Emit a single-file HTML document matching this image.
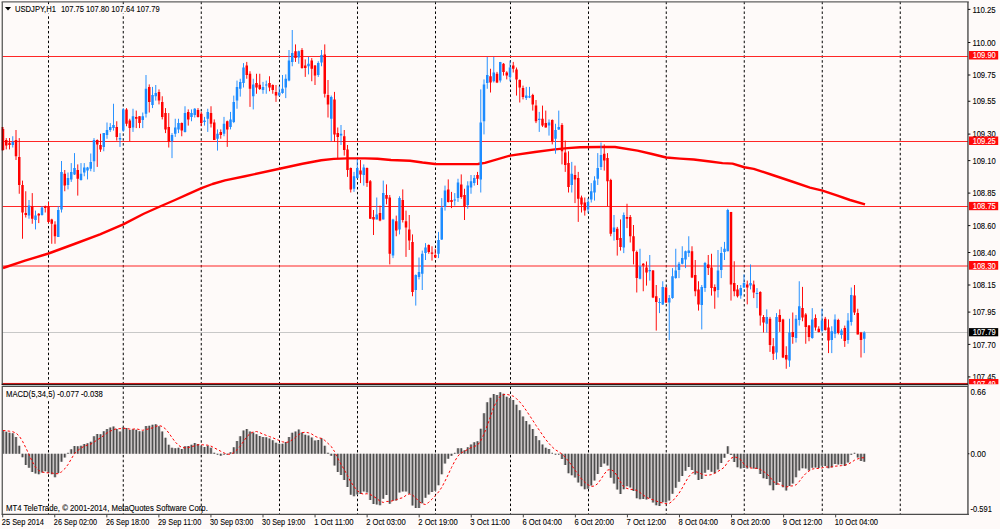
<!DOCTYPE html>
<html><head><meta charset="utf-8"><title>USDJPY,H1</title>
<style>html,body{margin:0;padding:0;background:#fefaf9;}body{width:1000px;height:529px;overflow:hidden;}svg{display:block;}text{font-family:"Liberation Sans",sans-serif;font-size:8.8px;fill:#000;stroke:#000;stroke-width:0.1px;}</style>
</head><body>
<svg width="1000" height="529" viewBox="0 0 1000 529">
<rect x="0" y="0" width="1000" height="529" fill="#fefaf9"/>
<defs><clipPath id="cm"><rect x="1.6" y="2.6" width="966" height="381.2"/></clipPath><clipPath id="cs"><rect x="2.6" y="387" width="965" height="126.8"/></clipPath></defs>
<g stroke="#000" stroke-width="1" stroke-dasharray="2.5 2.375" fill="none">
<path d="M48.50 1.7V384"/>
<path d="M48.50 386.6V514"/>
<path d="M123.25 1.7V384"/>
<path d="M123.25 386.6V514"/>
<path d="M201.25 1.7V384"/>
<path d="M201.25 386.6V514"/>
<path d="M279.50 1.7V384"/>
<path d="M279.50 386.6V514"/>
<path d="M357.50 1.7V384"/>
<path d="M357.50 386.6V514"/>
<path d="M435.50 1.7V384"/>
<path d="M435.50 386.6V514"/>
<path d="M510.50 1.7V384"/>
<path d="M510.50 386.6V514"/>
<path d="M588.50 1.7V384"/>
<path d="M588.50 386.6V514"/>
<path d="M666.25 1.7V384"/>
<path d="M666.25 386.6V514"/>
<path d="M744.25 1.7V384"/>
<path d="M744.25 386.6V514"/>
<path d="M822.25 1.7V384"/>
<path d="M822.25 386.6V514"/>
<path d="M900.25 1.7V384"/>
<path d="M900.25 386.6V514"/>
</g>
<path d="M2.5 332.5H968" stroke="#c2c2c2" stroke-width="0.9"/>
<g stroke="#ff1a1a" stroke-width="0.95">
<path d="M2.5 56.50H968"/>
<path d="M2.5 141.50H968"/>
<path d="M2.5 206.50H968"/>
<path d="M2.5 266.00H968"/>
</g>
<path d="M3 268 L25 260.6 L48.5 253.5 L75 243.75 L100 234.4 L123.25 224.4 L143.75 213.75 L160 206.5 L175 200 L187.5 194.4 L201.5 188.2 L212.5 184 L225 180.4 L245 176.3 L279.5 168.75 L302.5 163.75 L321.25 160.2 L333.75 158.9 L347.5 158.4 L365 158.4 L377.5 158.75 L391 160 L410 160.7 L422.5 162.5 L435 164 L460 164.1 L478 164 L485 162.9 L510 155.6 L535 152 L555 149.4 L567.5 148.1 L580 147.25 L600 147 L615 147 L637.5 150.6 L652 154 L666.25 157.5 L680 158.6 L693.75 159.5 L710 161.5 L722.5 163.1 L732.5 163.6 L744.4 167.25 L753.75 168.9 L772.5 175 L791.25 181.25 L810 187.6 L822.5 190.6 L837.5 195.6 L850 200 L865 204.4" stroke="#ff0000" stroke-width="2.4" fill="none" stroke-linejoin="round"/>
<g clip-path="url(#cm)"><path d="M3 127V150.6M6.25 138.1V149.4M9.5 138V149.4M16 130V160M19.25 138.1V193.75M22.5 180.6V238.75M25.75 191.25V217.5M32.25 193.1V223.75M38.75 213.1V223.1M45.25 205.6V212.5M48.5 201.9V223.1M51.75 218.75V243.75M55 221.25V243.75M64.75 170V191.25M77.75 164.4V195.6M97.25 139.4V166.9M100.5 133.75V151.9M116.75 121.25V140.6M126.5 108.1V126.25M129.75 118.75V141.25M136.25 110.6V128.1M139.5 116.25V128.1M149.25 84.4V112.5M159 89.4V104.4M162.25 96.25V119.4M165.5 108.1V133.1M168.75 113.1V147.5M181.75 122.5V136.25M188.25 109.4V125.6M198 108.1V117.5M201.25 111.9V126.25M211 106.25V127.5M214.25 119.4V140M220.75 129.4V138.75M227.25 120.6V146.9M246.75 61.9V78.75M250 71.25V106.9M256.5 73.75V93.75M259.75 73.75V90M269.5 76.25V91.25M272.75 84.4V93.75M276 85V101.9M295.5 44.4V61.9M302 48.1V68.75M305.25 59.4V76.9M311.75 58.1V81.25M315 65V85M324.75 44.4V97.5M328 80V117.5M334.5 91.9V141.9M337.75 127.5V158.1M344.25 130V155.6M347.5 145V176.9M350.75 167.5V192.5M360.5 160V183.1M367 167.5V186.9M370.25 180V218.75M373.5 210V235M380 205.6V221.25M386.5 184.4V204.4M389.75 195V264.4M396.25 215.6V236.25M402.75 189.4V222.5M406 210.6V256.9M409.25 215V250M412.5 234.4V296.25M428.75 244.4V253.75M432 246.25V260.6M435.25 248.75V258.1M448.25 179.4V202.5M451.5 191.9V208.1M461.25 174.4V198.75M464.5 188.75V220M477.5 171.9V185M490.5 68.75V92.5M497 71.9V83.1M503.5 63.1V75.6M506.75 71.25V79.4M513.25 61.9V72.5M516.5 67.5V95.6M519.75 79.4V102.5M523 85.6V99.4M532.75 93.75V110.6M536 100V123.1M542.5 105.6V126.9M545.75 110.6V127.5M552.25 119.4V144.4M562 123.1V164.4M565.25 140.6V171.9M568.5 151.25V192.5M575 165.6V203.1M578.25 171.9V221.9M581.5 195.6V212.5M584.75 197.5V215.6M604.25 144.4V170.6M607.5 153.1V206.25M610.75 178.75V236.25M617.25 226.9V255.6M620.5 219.4V250.6M627 203.75V228.1M630.25 215V242.5M633.5 225V264.4M636.75 250.6V292.5M643.25 263.1V291.25M646.5 261.5V285.6M653 270V298.1M656.25 285V330.6M666 286.9V303.1M692 246.25V278.1M695.25 260V296.25M698.5 281.25V310.6M708.25 255V275M711.5 253.75V295.6M714.75 284.4V308.75M731 211.9V300.6M734.25 261.25V296.25M737.5 285V297.5M747.25 280.6V304.4M753.75 280.6V298.1M760.25 291.25V325.6M763.5 315V332.5M770 316.9V351.9M773.25 338.1V360M779.75 309.4V331.9M783 318.75V358.1M786.25 346.25V368.75M792.75 312.5V343.75M802.5 286.9V321.25M805.75 313.1V343.75M809 325V341.25M815.5 314.4V330.6M818.75 326.25V332.5M825.25 316.9V330.6M828.5 319.4V353.1M838.25 318.75V334.4M844.75 325.6V346.9M854.5 285V315M857.75 308.75V334.4M861 331.9V357.5" stroke="#ff0000" stroke-width="0.95" fill="none"/>
<path d="M1.75 129h2.5V150h-2.5ZM5 140h2.5V145.6h-2.5ZM8.25 142.75h2.5V145h-2.5ZM14.75 140h2.5V156.25h-2.5ZM18 157h2.5V185h-2.5ZM21.25 185h2.5V212.5h-2.5ZM24.5 213h2.5V215h-2.5ZM31 206.25h2.5V218.75h-2.5ZM37.5 213.75h2.5V215.6h-2.5ZM44 206.25h2.5V208.1h-2.5ZM47.25 206.25h2.5V221.9h-2.5ZM50.5 219.4h2.5V223.75h-2.5ZM53.75 224.4h2.5V236.25h-2.5ZM63.5 173.75h2.5V185.6h-2.5ZM76.5 170h2.5V178.75h-2.5ZM96 140h2.5V144.4h-2.5ZM99.25 145h2.5V149.4h-2.5ZM115.5 126.9h2.5V136.9h-2.5ZM125.25 109.4h2.5V123.75h-2.5ZM128.5 120.6h2.5V128.1h-2.5ZM135 116.9h2.5V118.75h-2.5ZM138.25 116.25h2.5V123.1h-2.5ZM148 86.9h2.5V101.9h-2.5ZM157.75 91.9h2.5V100.6h-2.5ZM161 101.9h2.5V116.9h-2.5ZM164.25 113.1h2.5V129.4h-2.5ZM167.5 126.9h2.5V141.9h-2.5ZM180.5 123.1h2.5V130.6h-2.5ZM187 111.9h2.5V119.4h-2.5ZM196.75 110h2.5V116.9h-2.5ZM200 113.75h2.5V123.1h-2.5ZM209.75 113.1h2.5V123.75h-2.5ZM213 122.5h2.5V140h-2.5ZM219.5 131.9h2.5V135h-2.5ZM226 121.25h2.5V129.4h-2.5ZM245.5 65.6h2.5V75h-2.5ZM248.75 73.75h2.5V88.75h-2.5ZM255.25 83.1h2.5V87.5h-2.5ZM258.5 84.7h2.5V89h-2.5ZM268.25 83.1h2.5V87.5h-2.5ZM271.5 85h2.5V90h-2.5ZM274.75 91.9h2.5V95.6h-2.5ZM294.25 51.25h2.5V58.1h-2.5ZM300.75 50h2.5V68.1h-2.5ZM304 65.6h2.5V68.1h-2.5ZM310.5 60.6h2.5V68.75h-2.5ZM313.75 65.6h2.5V75.6h-2.5ZM323.5 54.4h2.5V93.75h-2.5ZM326.75 95h2.5V104.4h-2.5ZM333.25 99.4h2.5V134.4h-2.5ZM336.5 133.1h2.5V136.9h-2.5ZM343 136.25h2.5V150h-2.5ZM346.25 149.4h2.5V170h-2.5ZM349.5 168.1h2.5V189.4h-2.5ZM359.25 170.6h2.5V174.4h-2.5ZM365.75 168.1h2.5V183.1h-2.5ZM369 181.25h2.5V218.75h-2.5ZM372.25 216.9h2.5V219.4h-2.5ZM378.75 213.1h2.5V220.6h-2.5ZM385.25 195h2.5V198.75h-2.5ZM388.5 197.5h2.5V253.75h-2.5ZM395 221.25h2.5V230.6h-2.5ZM401.5 200h2.5V220h-2.5ZM404.75 221.25h2.5V227.5h-2.5ZM408 229.4h2.5V240.6h-2.5ZM411.25 241.9h2.5V291.9h-2.5ZM427.5 245h2.5V251.9h-2.5ZM430.75 252.5h2.5V253.75h-2.5ZM434 255h2.5V257.5h-2.5ZM447 189.4h2.5V201.9h-2.5ZM450.25 200h2.5V201.9h-2.5ZM460 184.4h2.5V196.9h-2.5ZM463.25 195h2.5V206.9h-2.5ZM476.25 175h2.5V178.75h-2.5ZM489.25 76.25h2.5V82.5h-2.5ZM495.75 73.75h2.5V82.5h-2.5ZM502.25 63.75h2.5V71.9h-2.5ZM505.5 72.5h2.5V75.6h-2.5ZM512 65.6h2.5V68.75h-2.5ZM515.25 69.4h2.5V79.4h-2.5ZM518.5 80h2.5V87.5h-2.5ZM521.75 88.1h2.5V96.9h-2.5ZM531.5 95h2.5V104.4h-2.5ZM534.75 105.6h2.5V121.25h-2.5ZM541.25 118.75h2.5V125.6h-2.5ZM544.5 123.1h2.5V127.5h-2.5ZM551 120h2.5V141.25h-2.5ZM560.75 125h2.5V151.25h-2.5ZM564 152.5h2.5V165h-2.5ZM567.25 163.1h2.5V186.9h-2.5ZM573.75 175h2.5V179.4h-2.5ZM577 178.1h2.5V198.75h-2.5ZM580.25 197.5h2.5V204.4h-2.5ZM583.5 202.5h2.5V210.6h-2.5ZM603 153.75h2.5V160.6h-2.5ZM606.25 158.1h2.5V181.25h-2.5ZM609.5 180h2.5V233.75h-2.5ZM616 228.75h2.5V240h-2.5ZM619.25 238.1h2.5V246.9h-2.5ZM625.75 216.9h2.5V218.75h-2.5ZM629 216.9h2.5V236.25h-2.5ZM632.25 236.25h2.5V251.25h-2.5ZM635.5 251.9h2.5V278.1h-2.5ZM642 263.75h2.5V265.6h-2.5ZM645.25 267.5h2.5V272.5h-2.5ZM651.75 270.6h2.5V297.5h-2.5ZM655 296.25h2.5V301.9h-2.5ZM664.75 287.5h2.5V302.5h-2.5ZM690.75 251.25h2.5V277.5h-2.5ZM694 275h2.5V291.25h-2.5ZM697.25 289.4h2.5V304.4h-2.5ZM707 264.4h2.5V268.1h-2.5ZM710.25 267.5h2.5V288.1h-2.5ZM713.5 286.9h2.5V291.25h-2.5ZM729.75 211.9h2.5V284.4h-2.5ZM733 283.1h2.5V291.25h-2.5ZM736.25 289.4h2.5V296.25h-2.5ZM746 284.4h2.5V287.5h-2.5ZM752.5 284.4h2.5V292.5h-2.5ZM759 291.9h2.5V315.6h-2.5ZM762.25 316.9h2.5V322.5h-2.5ZM768.75 318.75h2.5V345h-2.5ZM772 346.25h2.5V353.75h-2.5ZM778.5 315h2.5V321.9h-2.5ZM781.75 319.4h2.5V357.5h-2.5ZM785 355h2.5V359.4h-2.5ZM791.5 331.9h2.5V336.9h-2.5ZM801.25 308.1h2.5V317.5h-2.5ZM804.5 314.4h2.5V326.9h-2.5ZM807.75 325.6h2.5V336.9h-2.5ZM814.25 318.1h2.5V327.5h-2.5ZM817.5 328.75h2.5V331.9h-2.5ZM824 318.75h2.5V330h-2.5ZM827.25 327.5h2.5V340.6h-2.5ZM837 320h2.5V333.1h-2.5ZM843.5 328h2.5V341h-2.5ZM853.25 295.6h2.5V312.5h-2.5ZM856.5 313.1h2.5V334.4h-2.5ZM859.75 332.5h2.5V340h-2.5Z" fill="#ff0000"/>
<path d="M12.75 136.25V147.5M29 200V218.75M35.5 210.6V229.4M42 206.25V215.6M58.25 206.25V236.9M61.5 161V212.5M68 172.5V189.4M71.25 163.1V181.9M74.5 153.1V175M81 163.1V180.6M84.25 163.1V176.25M87.5 166.9V179.4M90.75 153.5V171.25M94 138.1V171.9M103.75 133.1V151.25M107 122.5V138.75M110.25 123.1V131.9M113.5 103.75V130.6M120 133.1V146.9M123.25 108.1V131.9M133 108.75V131.9M142.75 112.5V128.1M146 75V117.5M152.5 86.9V108.1M155.75 85V100.6M172 133.1V158.1M175.25 118.75V136.9M178.5 118.75V133.1M185 106.25V132.5M191.5 109.4V121.25M194.75 108.1V117.5M204.5 116.9V125.6M207.75 108.75V131.9M217.5 129.4V150.6M224 116.9V136.25M230.5 111.9V129.4M233.75 95.6V123.1M237 80.6V108.75M240.25 78.75V96.6M243.5 63.1V87.5M253.25 78.75V109.4M263 81.9V93.75M266.25 80.6V93.75M279.25 86.25V96.25M282.5 75V93.75M285.75 74.4V98.1M289 50V81.25M292.25 30V66.25M298.75 50.6V63.75M308.5 56.9V74.4M318.25 61.25V76.9M321.5 50V66.25M331.25 95.6V141.25M341 125V145M354 171.9V191.9M357.25 159.4V178.75M363.75 164.4V185.6M376.75 197.5V219.4M383.25 180.6V219.4M393 218.75V258.1M399.5 196.25V234.4M415.75 274.4V305.6M419 257.5V279.4M422.25 250.6V290M425.5 243.1V260M438.5 231.9V258.1M441.75 198.1V240M445 185.6V210.6M454.75 193.1V205.6M458 178.75V201.9M467.75 181.25V208.75M471 175V193.75M474.25 175V185.6M480.75 89.4V192.5M484 79.4V134.4M487.25 56.9V88.75M493.75 56.9V82.5M500.25 61.9V82.5M510 60.6V81.25M526.25 86.9V100M529.5 86.9V98.1M539.25 111.9V131.9M549 119.4V135.6M555.5 123.75V153.75M558.75 110.6V130M571.75 161.9V192.5M588 198.1V213.1M591.25 183.1V202.5M594.5 176.25V200.6M597.75 153.1V185M601 142.5V170M614 215V240.6M623.75 212.5V253.1M640 248.75V279.4M649.75 255V280.6M659.5 298.1V313.1M662.75 281.25V305M669.25 295V340M672.5 268.1V298.75M675.75 248.75V278.75M679 261.9V278.1M682.25 246.25V264.4M685.5 250.6V268.1M688.75 236.25V256.9M701.75 285V329.4M705 261.9V291.9M718 250V297.5M721.25 246.9V278.1M724.5 241.9V260M727.75 208.75V251.25M740.75 285V298.75M744 274.4V288.1M750.5 264.4V289.4M757 288.1V308.1M766.75 309.4V332.5M776.5 313.1V359.4M789.5 318.75V366.9M796 315V342.5M799.25 281.25V325.6M812.25 308.1V338.75M822 308.75V332.5M831.75 326.25V353.1M835 314.4V338.1M841.5 328.75V338.75M848 313.1V343.75M851.25 287.5V325.6M864.25 331.25V353.1" stroke="#1e8cff" stroke-width="0.95" fill="none"/>
<path d="M11.5 141.9h2.5V145h-2.5ZM27.75 205.6h2.5V215.6h-2.5ZM34.25 215.6h2.5V220h-2.5ZM40.75 207.5h2.5V215h-2.5ZM57 210h2.5V236.9h-2.5ZM60.25 171.9h2.5V209.4h-2.5ZM66.75 178.1h2.5V185h-2.5ZM70 171.9h2.5V179.4h-2.5ZM73.25 168.1h2.5V174.4h-2.5ZM79.75 173.75h2.5V180h-2.5ZM83 167.5h2.5V172.5h-2.5ZM86.25 167.5h2.5V170.6h-2.5ZM89.5 161.9h2.5V168.75h-2.5ZM92.75 140h2.5V161.25h-2.5ZM102.5 133.1h2.5V146.9h-2.5ZM105.75 130h2.5V135h-2.5ZM109 126.9h2.5V130h-2.5ZM112.25 125h2.5V128.1h-2.5ZM118.75 138.1h2.5V139.4h-2.5ZM122 109.4h2.5V130.6h-2.5ZM131.75 116.25h2.5V127.5h-2.5ZM141.5 116.25h2.5V120h-2.5ZM144.75 88.75h2.5V113.75h-2.5ZM151.25 95h2.5V105h-2.5ZM154.5 93.1h2.5V96.25h-2.5ZM170.75 135h2.5V141.25h-2.5ZM174 127.5h2.5V133.75h-2.5ZM177.25 123.1h2.5V129.4h-2.5ZM183.75 113.1h2.5V131.9h-2.5ZM190.25 113.1h2.5V116.9h-2.5ZM193.5 108.75h2.5V115h-2.5ZM203.25 120.6h2.5V121.9h-2.5ZM206.5 111.9h2.5V118.75h-2.5ZM216.25 133.75h2.5V138.75h-2.5ZM222.75 123.75h2.5V133.75h-2.5ZM229.25 119.4h2.5V126.9h-2.5ZM232.5 101.9h2.5V121.9h-2.5ZM235.75 86.9h2.5V100.6h-2.5ZM239 81.9h2.5V88.75h-2.5ZM242.25 67.5h2.5V83.1h-2.5ZM252 84.4h2.5V96.25h-2.5ZM261.75 86.9h2.5V90h-2.5ZM265 84.4h2.5V85.6h-2.5ZM278 92.5h2.5V95.6h-2.5ZM281.25 88.75h2.5V93.1h-2.5ZM284.5 78.75h2.5V87.5h-2.5ZM287.75 60.6h2.5V80.6h-2.5ZM291 53.1h2.5V61.9h-2.5ZM297.5 51.25h2.5V57.5h-2.5ZM307.25 63.75h2.5V66.25h-2.5ZM317 63.1h2.5V75h-2.5ZM320.25 55h2.5V62.5h-2.5ZM330 96.9h2.5V118.75h-2.5ZM339.75 133.75h2.5V135.6h-2.5ZM352.75 176.25h2.5V188.75h-2.5ZM356 168.1h2.5V178.1h-2.5ZM362.5 167.5h2.5V175h-2.5ZM375.5 214.4h2.5V219.4h-2.5ZM382 193.1h2.5V219.4h-2.5ZM391.75 219.4h2.5V255.6h-2.5ZM398.25 198.1h2.5V229.4h-2.5ZM414.5 275h2.5V290h-2.5ZM417.75 271.9h2.5V276.9h-2.5ZM421 253.75h2.5V273.75h-2.5ZM424.25 247.5h2.5V253.1h-2.5ZM437.25 240h2.5V253.75h-2.5ZM440.5 207.5h2.5V239.4h-2.5ZM443.75 190.6h2.5V206.9h-2.5ZM453.5 199.4h2.5V200.6h-2.5ZM456.75 182.5h2.5V198.1h-2.5ZM466.5 185.6h2.5V205h-2.5ZM469.75 181.25h2.5V187.5h-2.5ZM473 178.1h2.5V183.1h-2.5ZM479.5 122.5h2.5V179.4h-2.5ZM482.75 84.4h2.5V121.25h-2.5ZM486 75h2.5V83.1h-2.5ZM492.5 72.5h2.5V81.25h-2.5ZM499 61.9h2.5V80.6h-2.5ZM508.75 67.5h2.5V76.9h-2.5ZM525 95.6h2.5V98.1h-2.5ZM528.25 96.25h2.5V97.5h-2.5ZM538 118.75h2.5V120h-2.5ZM547.75 122.5h2.5V125.6h-2.5ZM554.25 130h2.5V138.75h-2.5ZM557.5 126.9h2.5V129.4h-2.5ZM570.5 173.75h2.5V185h-2.5ZM586.75 201.9h2.5V209.4h-2.5ZM590 191.25h2.5V199.4h-2.5ZM593.25 180.6h2.5V192.5h-2.5ZM596.5 168.1h2.5V178.75h-2.5ZM599.75 155h2.5V166.9h-2.5ZM612.75 227.5h2.5V231.9h-2.5ZM622.5 215h2.5V247.5h-2.5ZM638.75 266.25h2.5V278.75h-2.5ZM648.5 270h2.5V271.25h-2.5ZM658.25 301.9h2.5V303.1h-2.5ZM661.5 286.9h2.5V304.4h-2.5ZM668 298.1h2.5V302.5h-2.5ZM671.25 276.25h2.5V298.1h-2.5ZM674.5 270.6h2.5V278.1h-2.5ZM677.75 263.75h2.5V270h-2.5ZM681 258.1h2.5V263.75h-2.5ZM684.25 251.25h2.5V259.4h-2.5ZM687.5 250.6h2.5V253.1h-2.5ZM700.5 286.9h2.5V305h-2.5ZM703.75 263.1h2.5V288.1h-2.5ZM716.75 270.6h2.5V290h-2.5ZM720 253.1h2.5V270h-2.5ZM723.25 248.75h2.5V251.9h-2.5ZM726.5 210h2.5V251.25h-2.5ZM739.5 288.1h2.5V295.6h-2.5ZM742.75 283.1h2.5V287.5h-2.5ZM749.25 283.1h2.5V285.6h-2.5ZM755.75 292.93h2.5V293.93h-2.5ZM765.5 316.9h2.5V323.75h-2.5ZM775.25 316.9h2.5V352.5h-2.5ZM788.25 332.5h2.5V360.6h-2.5ZM794.75 318.75h2.5V338.1h-2.5ZM798 306.25h2.5V320h-2.5ZM811 319.4h2.5V338.1h-2.5ZM820.75 320.6h2.5V330.6h-2.5ZM830.5 331.25h2.5V340h-2.5ZM833.75 319.4h2.5V333.75h-2.5ZM840.25 330.6h2.5V335h-2.5ZM846.75 320.6h2.5V340h-2.5ZM850 295h2.5V321.9h-2.5ZM863 332.5h2.5V338.75h-2.5Z" fill="#1e8cff"/></g>
<g clip-path="url(#cs)">
<path d="M1.38 453.75 L1.38 430.51 L4.62 430.51 L4.62 431.73 L7.88 431.73 L7.88 432.79 L11.12 432.79 L11.12 433.2 L14.38 433.2 L14.38 436.92 L17.62 436.92 L17.62 445.74 L20.88 445.74 L20.88 457.33 L24.12 457.33 L24.12 465.09 L27.38 465.09 L27.38 467.73 L30.62 467.73 L30.62 471.94 L33.88 471.94 L33.88 473.57 L37.12 473.57 L37.12 474.22 L40.38 474.22 L40.38 472.5 L43.62 472.5 L43.62 471.19 L46.88 471.19 L46.88 472.99 L50.12 472.99 L50.12 474.15 L53.38 474.15 L53.38 477.17 L56.62 477.17 L56.62 473 L59.88 473 L59.88 461.84 L63.12 461.84 L63.12 457.61 L66.38 457.61 L66.38 453.27 L69.62 453.27 L69.62 449.22 L72.88 449.22 L72.88 445.95 L76.12 445.95 L76.12 446.32 L79.38 446.32 L79.38 445.63 L82.62 445.63 L82.62 444.01 L85.88 444.01 L85.88 443.17 L89.12 443.17 L89.12 441.65 L92.38 441.65 L92.38 436.23 L95.62 436.23 L95.62 434.1 L98.88 434.1 L98.88 434.2 L102.12 434.2 L102.12 431.15 L105.38 431.15 L105.38 428.99 L108.62 428.99 L108.62 427.45 L111.88 427.45 L111.88 426.57 L115.12 426.57 L115.12 429.09 L118.38 429.09 L118.38 431.39 L121.62 431.39 L121.62 427.12 L124.88 427.12 L124.88 428.01 L128.12 428.01 L128.12 430 L131.38 430 L131.38 429.16 L134.62 429.16 L134.62 429.64 L137.88 429.64 L137.88 431.33 L141.12 431.33 L141.12 431.35 L144.38 431.35 L144.38 425.9 L147.62 425.9 L147.62 425.82 L150.88 425.82 L150.88 424.82 L154.12 424.82 L154.12 424.34 L157.38 424.34 L157.38 426.2 L160.62 426.2 L160.62 431.39 L163.88 431.39 L163.88 437.76 L167.12 437.76 L167.12 444.75 L170.38 444.75 L170.38 447.83 L173.62 447.83 L173.62 448.28 L176.88 448.28 L176.88 447.72 L180.12 447.72 L180.12 449.09 L183.38 449.09 L183.38 446.29 L186.62 446.29 L186.62 446.02 L189.88 446.02 L189.88 444.65 L193.12 444.65 L193.12 443.02 L196.38 443.02 L196.38 443.96 L199.62 443.96 L199.62 446.06 L202.88 446.06 L202.88 446.99 L206.12 446.99 L206.12 445.84 L209.38 445.84 L209.38 447.81 L212.62 447.81 L212.62 452.64 L215.88 452.64 L215.88 454.36 L219.12 454.36 L219.12 455.7 L222.38 455.7 L222.38 454.09 L225.62 454.09 L225.62 454.28 L228.88 454.28 L228.88 452.25 L232.12 452.25 L232.12 447.25 L235.38 447.25 L235.38 441.02 L238.62 441.02 L238.62 436.27 L241.88 436.27 L241.88 430.53 L245.12 430.53 L245.12 428.97 L248.38 428.97 L248.38 431.41 L251.62 431.41 L251.62 432.44 L254.88 432.44 L254.88 434.16 L258.12 434.16 L258.12 435.93 L261.38 435.93 L261.38 436.93 L264.62 436.93 L264.62 437.35 L267.88 437.35 L267.88 438.59 L271.12 438.59 L271.12 440.19 L274.38 440.19 L274.38 442.66 L277.62 442.66 L277.62 443.75 L280.88 443.75 L280.88 443.83 L284.12 443.83 L284.12 441.92 L287.38 441.92 L287.38 437.06 L290.62 437.06 L290.62 432.71 L293.88 432.71 L293.88 431.45 L297.12 431.45 L297.12 429.62 L300.38 429.62 L300.38 432.53 L303.62 432.53 L303.62 434.77 L306.88 434.77 L306.88 435.61 L310.12 435.61 L310.12 437.55 L313.38 437.55 L313.38 440.55 L316.62 440.55 L316.62 440.01 L319.88 440.01 L319.88 438.19 L323.12 438.19 L323.12 445.65 L326.38 445.65 L326.38 452.78 L329.62 452.78 L329.62 455.67 L332.88 455.67 L332.88 465.49 L336.12 465.49 L336.12 471.97 L339.38 471.97 L339.38 475.03 L342.62 475.03 L342.62 480.02 L345.88 480.02 L345.88 486.95 L349.12 486.95 L349.12 494.83 L352.38 494.83 L352.38 496.19 L355.62 496.19 L355.62 494.48 L358.88 494.48 L358.88 493.98 L362.12 493.98 L362.12 491.43 L365.38 491.43 L365.38 492.44 L368.62 492.44 L368.62 499.99 L371.88 499.99 L371.88 503.99 L375.12 503.99 L375.12 504.48 L378.38 504.48 L378.38 505.15 L381.62 505.15 L381.62 498.69 L384.88 498.69 L384.88 494.99 L388.12 494.99 L388.12 503.67 L391.38 503.67 L391.38 500.81 L394.62 500.81 L394.62 500.52 L397.88 500.52 L397.88 492.47 L401.12 492.47 L401.12 491.38 L404.38 491.38 L404.38 491.58 L407.62 491.58 L407.62 493.79 L410.88 493.79 L410.88 505.42 L414.12 505.42 L414.12 508.12 L417.38 508.12 L417.38 508.12 L420.62 508.12 L420.62 503.19 L423.88 503.19 L423.88 497.81 L427.12 497.81 L427.12 494.53 L430.38 494.53 L430.38 492.09 L433.62 492.09 L433.62 490.63 L436.88 490.63 L436.88 485.26 L440.12 485.26 L440.12 474.32 L443.38 474.32 L443.38 463.42 L446.62 463.42 L446.62 458.81 L449.88 458.81 L449.88 455.82 L453.12 455.82 L453.12 453.36 L456.38 453.36 L456.38 448.2 L459.62 448.2 L459.62 448.15 L462.88 448.15 L462.88 450.37 L466.12 450.37 L466.12 447.26 L469.38 447.26 L469.38 444.5 L472.62 444.5 L472.62 442.27 L475.88 442.27 L475.88 441.22 L479.12 441.22 L479.12 428.74 L482.38 428.74 L482.38 413.21 L485.62 413.21 L485.62 402.2 L488.88 402.2 L488.88 397.87 L492.12 397.87 L492.12 394.07 L495.38 394.07 L495.38 394.96 L498.62 394.96 L498.62 392.23 L501.88 392.23 L501.88 393.82 L505.12 393.82 L505.12 396.76 L508.38 396.76 L508.38 397.95 L511.62 397.95 L511.62 400.04 L514.88 400.04 L514.88 404.65 L518.12 404.65 L518.12 410.22 L521.38 410.22 L521.38 416.57 L524.62 416.57 L524.62 420.99 L527.88 420.99 L527.88 424.53 L531.12 424.53 L531.12 429.06 L534.38 429.06 L534.38 435.99 L537.62 435.99 L537.62 440.15 L540.88 440.15 L540.88 444.49 L544.12 444.49 L544.12 447.8 L547.38 447.8 L547.38 448.93 L550.62 448.93 L550.62 453.74 L553.88 453.74 L553.88 454.36 L557.12 454.36 L557.12 454.07 L560.38 454.07 L560.38 459.1 L563.62 459.1 L563.62 465.11 L566.88 465.11 L566.88 473.37 L570.12 473.37 L570.12 475.36 L573.38 475.36 L573.38 477.42 L576.62 477.42 L576.62 482.41 L579.88 482.41 L579.88 486.21 L583.12 486.21 L583.12 489.31 L586.38 489.31 L586.38 488.71 L589.62 488.71 L589.62 485.39 L592.88 485.39 L592.88 480.42 L596.12 480.42 L596.12 474.1 L599.38 474.1 L599.38 466.94 L602.62 466.94 L602.62 463.38 L605.88 463.38 L605.88 465.39 L609.12 465.39 L609.12 477.69 L612.38 477.69 L612.38 483.62 L615.62 483.62 L615.62 489.46 L618.88 489.46 L618.88 493.93 L622.12 493.93 L622.12 489.14 L625.38 489.14 L625.38 486.25 L628.62 486.25 L628.62 487.57 L631.88 487.57 L631.88 490.97 L635.12 490.97 L635.12 498.16 L638.38 498.16 L638.38 499.29 L641.62 499.29 L641.62 498.99 L644.88 498.99 L644.88 499.42 L648.12 499.42 L648.12 498.29 L651.38 498.29 L651.38 502.62 L654.62 502.62 L654.62 505.36 L657.88 505.36 L657.88 506.09 L661.12 506.09 L661.12 502.35 L664.38 502.35 L664.38 502.41 L667.62 502.41 L667.62 500.58 L670.88 500.58 L670.88 493.85 L674.12 493.85 L674.12 487.65 L677.38 487.65 L677.38 481.63 L680.62 481.63 L680.62 476.11 L683.88 476.11 L683.88 470.74 L687.12 470.74 L687.12 466.91 L690.38 466.91 L690.38 470.01 L693.62 470.01 L693.62 474.6 L696.88 474.6 L696.88 479.91 L700.12 479.91 L700.12 479 L703.38 479 L703.38 472.84 L706.62 472.84 L706.62 469.68 L709.88 469.68 L709.88 471.67 L713.12 471.67 L713.12 473.26 L716.38 473.26 L716.38 469.46 L719.62 469.46 L719.62 463.02 L722.88 463.02 L722.88 457.87 L726.12 457.87 L726.12 446.24 L729.38 446.24 L729.38 455.02 L732.62 455.02 L732.62 461.99 L735.88 461.99 L735.88 467.28 L739.12 467.28 L739.12 468.6 L742.38 468.6 L742.38 468.08 L745.62 468.08 L745.62 468.42 L748.88 468.42 L748.88 467.41 L752.12 467.41 L752.12 468.54 L755.38 468.54 L755.38 469.09 L758.62 469.09 L758.62 473.96 L761.88 473.96 L761.88 478.13 L765.12 478.13 L765.12 479.08 L768.38 479.08 L768.38 485.21 L771.62 485.21 L771.62 490.35 L774.88 490.35 L774.88 484.98 L778.12 484.98 L778.12 482.08 L781.38 482.08 L781.38 487.35 L784.62 487.35 L784.62 490.43 L787.88 490.43 L787.88 485.9 L791.12 485.9 L791.12 483.39 L794.38 483.39 L794.38 477.35 L797.62 477.35 L797.62 470.43 L800.88 470.43 L800.88 468.17 L804.12 468.17 L804.12 468.49 L807.38 468.49 L807.38 470.55 L810.62 470.55 L810.62 467.78 L813.88 467.78 L813.88 467.51 L817.12 467.51 L817.12 468.02 L820.38 468.02 L820.38 465.64 L823.62 465.64 L823.62 465.94 L826.88 465.94 L826.88 468.16 L830.12 468.16 L830.12 467.28 L833.38 467.28 L833.38 463.93 L836.62 463.93 L836.62 464.57 L839.88 464.57 L839.88 464.23 L843.12 464.23 L843.12 466.04 L846.38 466.04 L846.38 462.58 L849.62 462.58 L849.62 454.74 L852.88 454.74 L852.88 453.55 L856.12 453.55 L856.12 457.5 L859.38 457.5 L859.38 461.11 L862.62 461.11 L862.62 461.63 L865.88 461.63 L865.88 453.75Z" fill="#c9c5c5"/>
<path d="M3 453.75V430.51M6.25 453.75V431.73M9.5 453.75V432.79M12.75 453.75V433.2M16 453.75V436.92M19.25 453.75V445.74M22.5 453.75V457.33M25.75 453.75V465.09M29 453.75V467.73M32.25 453.75V471.94M35.5 453.75V473.57M38.75 453.75V474.22M42 453.75V472.5M45.25 453.75V471.19M48.5 453.75V472.99M51.75 453.75V474.15M55 453.75V477.17M58.25 453.75V473M61.5 453.75V461.84M64.75 453.75V457.61M68 453.75V452.85M71.25 453.75V449.22M74.5 453.75V445.95M77.75 453.75V446.32M81 453.75V445.63M84.25 453.75V444.01M87.5 453.75V443.17M90.75 453.75V441.65M94 453.75V436.23M97.25 453.75V434.1M100.5 453.75V434.2M103.75 453.75V431.15M107 453.75V428.99M110.25 453.75V427.45M113.5 453.75V426.57M116.75 453.75V429.09M120 453.75V431.39M123.25 453.75V427.12M126.5 453.75V428.01M129.75 453.75V430M133 453.75V429.16M136.25 453.75V429.64M139.5 453.75V431.33M142.75 453.75V431.35M146 453.75V425.9M149.25 453.75V425.82M152.5 453.75V424.82M155.75 453.75V424.34M159 453.75V426.2M162.25 453.75V431.39M165.5 453.75V437.76M168.75 453.75V444.75M172 453.75V447.83M175.25 453.75V448.28M178.5 453.75V447.72M181.75 453.75V449.09M185 453.75V446.29M188.25 453.75V446.02M191.5 453.75V444.65M194.75 453.75V443.02M198 453.75V443.96M201.25 453.75V446.06M204.5 453.75V446.99M207.75 453.75V445.84M211 453.75V447.81M214.25 453.75V452.64M217.5 453.75V454.65M220.75 453.75V455.7M224 453.75V454.65M227.25 453.75V454.65M230.5 453.75V452.25M233.75 453.75V447.25M237 453.75V441.02M240.25 453.75V436.27M243.5 453.75V430.53M246.75 453.75V428.97M250 453.75V431.41M253.25 453.75V432.44M256.5 453.75V434.16M259.75 453.75V435.93M263 453.75V436.93M266.25 453.75V437.35M269.5 453.75V438.59M272.75 453.75V440.19M276 453.75V442.66M279.25 453.75V443.75M282.5 453.75V443.83M285.75 453.75V441.92M289 453.75V437.06M292.25 453.75V432.71M295.5 453.75V431.45M298.75 453.75V429.62M302 453.75V432.53M305.25 453.75V434.77M308.5 453.75V435.61M311.75 453.75V437.55M315 453.75V440.55M318.25 453.75V440.01M321.5 453.75V438.19M324.75 453.75V445.65M328 453.75V452.78M331.25 453.75V455.67M334.5 453.75V465.49M337.75 453.75V471.97M341 453.75V475.03M344.25 453.75V480.02M347.5 453.75V486.95M350.75 453.75V494.83M354 453.75V496.19M357.25 453.75V494.48M360.5 453.75V493.98M363.75 453.75V491.43M367 453.75V492.44M370.25 453.75V499.99M373.5 453.75V503.99M376.75 453.75V504.48M380 453.75V505.15M383.25 453.75V498.69M386.5 453.75V494.99M389.75 453.75V503.67M393 453.75V500.81M396.25 453.75V500.52M399.5 453.75V492.47M402.75 453.75V491.38M406 453.75V491.58M409.25 453.75V493.79M412.5 453.75V505.42M415.75 453.75V508.12M419 453.75V508.12M422.25 453.75V503.19M425.5 453.75V497.81M428.75 453.75V494.53M432 453.75V492.09M435.25 453.75V490.63M438.5 453.75V485.26M441.75 453.75V474.32M445 453.75V463.42M448.25 453.75V458.81M451.5 453.75V455.82M454.75 453.75V452.85M458 453.75V448.2M461.25 453.75V448.15M464.5 453.75V450.37M467.75 453.75V447.26M471 453.75V444.5M474.25 453.75V442.27M477.5 453.75V441.22M480.75 453.75V428.74M484 453.75V413.21M487.25 453.75V402.2M490.5 453.75V397.87M493.75 453.75V394.07M497 453.75V394.96M500.25 453.75V392.23M503.5 453.75V393.82M506.75 453.75V396.76M510 453.75V397.95M513.25 453.75V400.04M516.5 453.75V404.65M519.75 453.75V410.22M523 453.75V416.57M526.25 453.75V420.99M529.5 453.75V424.53M532.75 453.75V429.06M536 453.75V435.99M539.25 453.75V440.15M542.5 453.75V444.49M545.75 453.75V447.8M549 453.75V448.93M552.25 453.75V452.85M555.5 453.75V454.65M558.75 453.75V454.65M562 453.75V459.1M565.25 453.75V465.11M568.5 453.75V473.37M571.75 453.75V475.36M575 453.75V477.42M578.25 453.75V482.41M581.5 453.75V486.21M584.75 453.75V489.31M588 453.75V488.71M591.25 453.75V485.39M594.5 453.75V480.42M597.75 453.75V474.1M601 453.75V466.94M604.25 453.75V463.38M607.5 453.75V465.39M610.75 453.75V477.69M614 453.75V483.62M617.25 453.75V489.46M620.5 453.75V493.93M623.75 453.75V489.14M627 453.75V486.25M630.25 453.75V487.57M633.5 453.75V490.97M636.75 453.75V498.16M640 453.75V499.29M643.25 453.75V498.99M646.5 453.75V499.42M649.75 453.75V498.29M653 453.75V502.62M656.25 453.75V505.36M659.5 453.75V506.09M662.75 453.75V502.35M666 453.75V502.41M669.25 453.75V500.58M672.5 453.75V493.85M675.75 453.75V487.65M679 453.75V481.63M682.25 453.75V476.11M685.5 453.75V470.74M688.75 453.75V466.91M692 453.75V470.01M695.25 453.75V474.6M698.5 453.75V479.91M701.75 453.75V479M705 453.75V472.84M708.25 453.75V469.68M711.5 453.75V471.67M714.75 453.75V473.26M718 453.75V469.46M721.25 453.75V463.02M724.5 453.75V457.87M727.75 453.75V446.24M731 453.75V455.02M734.25 453.75V461.99M737.5 453.75V467.28M740.75 453.75V468.6M744 453.75V468.08M747.25 453.75V468.42M750.5 453.75V467.41M753.75 453.75V468.54M757 453.75V469.09M760.25 453.75V473.96M763.5 453.75V478.13M766.75 453.75V479.08M770 453.75V485.21M773.25 453.75V490.35M776.5 453.75V484.98M779.75 453.75V482.08M783 453.75V487.35M786.25 453.75V490.43M789.5 453.75V485.9M792.75 453.75V483.39M796 453.75V477.35M799.25 453.75V470.43M802.5 453.75V468.17M805.75 453.75V468.49M809 453.75V470.55M812.25 453.75V467.78M815.5 453.75V467.51M818.75 453.75V468.02M822 453.75V465.64M825.25 453.75V465.94M828.5 453.75V468.16M831.75 453.75V467.28M835 453.75V463.93M838.25 453.75V464.57M841.5 453.75V464.23M844.75 453.75V466.04M848 453.75V462.58M851.25 453.75V454.74M854.5 453.75V452.85M857.75 453.75V457.5M861 453.75V461.11M864.25 453.75V461.63" stroke="#4d4d4d" stroke-width="1.55" fill="none"/>
<path d="M3 430.51 L6.25 430.75 L9.5 431.21 L12.75 431.75 L16 433.03 L19.25 436.08 L22.5 441.19 L25.75 447.65 L29 454.56 L32.25 461.57 L35.5 467.13 L38.75 470.51 L42 471.99 L45.25 472.68 L48.5 472.89 L51.75 473.01 L55 473.6 L58.25 473.7 L61.5 471.83 L64.75 468.76 L68 464.58 L71.25 458.99 L74.5 453.58 L77.75 450.48 L81 448.08 L84.25 446.23 L87.5 445.02 L90.75 444.16 L94 442.14 L97.25 439.83 L100.5 437.87 L103.75 435.47 L107 432.93 L110.25 431.18 L113.5 429.67 L116.75 428.65 L120 428.7 L123.25 428.32 L126.5 428.44 L129.75 429.12 L133 429.14 L136.25 428.79 L139.5 429.63 L142.75 430.3 L146 429.47 L149.25 428.81 L152.5 427.84 L155.75 426.44 L159 425.41 L162.25 426.51 L165.5 428.9 L168.75 432.89 L172 437.59 L175.25 442 L178.5 445.27 L181.75 447.53 L185 447.84 L188.25 447.48 L191.5 446.75 L194.75 445.81 L198 444.79 L201.25 444.74 L204.5 444.93 L207.75 445.17 L211 446.13 L214.25 447.87 L217.5 449.53 L220.75 451.27 L224 452.92 L227.25 454.21 L230.5 454.14 L233.75 452.71 L237 449.78 L240.25 446.21 L243.5 441.46 L246.75 436.81 L250 433.64 L253.25 431.92 L256.5 431.5 L259.75 432.58 L263 434.17 L266.25 435.36 L269.5 436.59 L272.75 437.8 L276 439.14 L279.25 440.51 L282.5 441.8 L285.75 442.47 L289 441.84 L292.25 439.86 L295.5 437.39 L298.75 434.55 L302 432.67 L305.25 432.22 L308.5 432.8 L311.75 434.02 L315 436.2 L318.25 437.7 L321.5 438.38 L324.75 440.39 L328 443.43 L331.25 446.46 L334.5 451.55 L337.75 458.31 L341 464.19 L344.25 469.64 L347.5 475.89 L350.75 481.76 L354 486.6 L357.25 490.5 L360.5 493.29 L363.75 494.18 L367 493.7 L370.25 494.47 L373.5 496.37 L376.75 498.47 L380 501.21 L383.25 502.46 L386.5 501.46 L389.75 501.4 L393 500.66 L396.25 499.74 L399.5 498.49 L402.75 497.77 L406 495.35 L409.25 493.95 L412.5 494.93 L415.75 498.06 L419 501.4 L422.25 503.73 L425.5 504.53 L428.75 502.35 L432 499.15 L435.25 495.65 L438.5 492.07 L441.75 487.37 L445 481.14 L448.25 474.49 L451.5 467.53 L454.75 461.15 L458 455.92 L461.25 452.87 L464.5 451.18 L467.75 449.47 L471 447.7 L474.25 446.51 L477.5 445.12 L480.75 440.8 L484 433.99 L487.25 425.53 L490.5 416.65 L493.75 407.22 L497 400.46 L500.25 396.27 L503.5 394.59 L506.75 394.37 L510 395.14 L513.25 396.16 L516.5 398.64 L519.75 401.93 L523 405.89 L526.25 410.5 L529.5 415.39 L532.75 420.28 L536 425.43 L539.25 430.14 L542.5 434.84 L545.75 439.5 L549 443.47 L552.25 447.02 L555.5 449.86 L558.75 451.78 L562 454.04 L565.25 457.28 L568.5 461.2 L571.75 465.4 L575 470.07 L578.25 474.73 L581.5 478.95 L584.75 482.14 L588 484.81 L591.25 486.41 L594.5 486.01 L597.75 483.59 L601 479.11 L604.25 474.05 L607.5 470.05 L610.75 469.5 L614 471.41 L617.25 475.91 L620.5 482.02 L623.75 486.77 L627 488.48 L630.25 489.27 L633.5 489.57 L636.75 490.42 L640 492.45 L643.25 495 L646.5 497.37 L649.75 498.83 L653 499.72 L656.25 500.94 L659.5 502.36 L662.75 502.94 L666 503.77 L669.25 503.36 L672.5 501.05 L675.75 497.36 L679 493.22 L682.25 487.96 L685.5 482 L688.75 476.61 L692 473.08 L695.25 471.68 L698.5 472.44 L701.75 474.09 L705 475.27 L708.25 475.21 L711.5 474.62 L714.75 473.29 L718 471.38 L721.25 469.42 L724.5 467.06 L727.75 461.97 L731 458.32 L734.25 456.83 L737.5 457.68 L740.75 459.83 L744 464.2 L747.25 466.88 L750.5 467.96 L753.75 468.21 L757 468.31 L760.25 469.48 L763.5 471.43 L766.75 473.76 L770 477.09 L773.25 481.35 L776.5 483.55 L779.75 484.34 L783 486 L786.25 487.04 L789.5 486.15 L792.75 485.83 L796 484.89 L799.25 481.5 L802.5 477.05 L805.75 473.56 L809 471 L812.25 469.08 L815.5 468.5 L818.75 468.47 L822 467.9 L825.25 466.98 L828.5 467.05 L831.75 467.01 L835 466.19 L838.25 465.98 L841.5 465.64 L844.75 465.21 L848 464.27 L851.25 462.43 L854.5 460.23 L857.75 458.88 L861 457.9 L864.25 457.71" stroke="#ff0000" stroke-width="1.0" stroke-dasharray="2.5 2.2" fill="none"/>
</g>
<path d="M2.5 383.45H968" stroke="#ff1010" stroke-width="1"/>
<g stroke="#4c4c4c" stroke-width="1.2" fill="none">
<path d="M2.25 384.6V1.9"/>
<path d="M2.25 127V150.6" stroke="#6a0000"/>
<path d="M1.6 1.9H968.8" stroke="#606060" stroke-width="1.4"/>
<path d="M967.95 1.9V514.4" stroke="#3e3e3e" stroke-width="1.3"/>
<path d="M1.6 384.35H967.95" stroke="#2b0808" stroke-width="1.1"/>
<path d="M2.25 514.4V386.45H967.95"/>
<path d="M1.6 514.4H968.9"/>
</g>
<path d="M2.9 385.4H967.5" stroke="#a9bcbc" stroke-width="0.9"/>
<g stroke="#111" stroke-width="1">
<path d="M968 9.40H970.4"/>
<path d="M968 42.50H970.4"/>
<path d="M968 75.00H970.4"/>
<path d="M968 101.25H970.4"/>
<path d="M968 134.10H970.4"/>
<path d="M968 160.60H970.4"/>
<path d="M968 193.10H970.4"/>
<path d="M968 225.60H970.4"/>
<path d="M968 252.50H970.4"/>
<path d="M968 285.00H970.4"/>
<path d="M968 312.10H970.4"/>
<path d="M968 344.40H970.4"/>
<path d="M968 376.90H970.4"/>
<path d="M968 453.75H969.4"/>
</g>
<g>
<text x="972.4" y="12.55" textLength="23.3" lengthAdjust="spacingAndGlyphs">110.25</text>
<text x="972.4" y="45.65" textLength="23.3" lengthAdjust="spacingAndGlyphs">110.00</text>
<text x="972.4" y="78.15" textLength="23.3" lengthAdjust="spacingAndGlyphs">109.75</text>
<text x="972.4" y="104.40" textLength="23.3" lengthAdjust="spacingAndGlyphs">109.55</text>
<text x="972.4" y="137.25" textLength="23.3" lengthAdjust="spacingAndGlyphs">109.30</text>
<text x="972.4" y="163.75" textLength="23.3" lengthAdjust="spacingAndGlyphs">109.10</text>
<text x="972.4" y="196.25" textLength="23.3" lengthAdjust="spacingAndGlyphs">108.85</text>
<text x="972.4" y="228.75" textLength="23.3" lengthAdjust="spacingAndGlyphs">108.60</text>
<text x="972.4" y="255.65" textLength="23.3" lengthAdjust="spacingAndGlyphs">108.40</text>
<text x="972.4" y="288.15" textLength="23.3" lengthAdjust="spacingAndGlyphs">108.15</text>
<text x="972.4" y="315.25" textLength="23.3" lengthAdjust="spacingAndGlyphs">107.95</text>
<text x="972.4" y="347.55" textLength="23.3" lengthAdjust="spacingAndGlyphs">107.70</text>
<text x="972.4" y="380.05" textLength="23.3" lengthAdjust="spacingAndGlyphs">107.45</text>
<text x="970.4" y="395.0" textLength="15.4" lengthAdjust="spacingAndGlyphs">0.66</text>
<text x="970.4" y="457.0" textLength="15.4" lengthAdjust="spacingAndGlyphs">0.00</text>
<text x="970.6" y="512.1" textLength="21.3" lengthAdjust="spacingAndGlyphs">-0.591</text>
</g>
<rect x="969" y="51.00" width="29.2" height="8.50" fill="#ff0a0a"/>
<text x="972.7" y="58.45" textLength="23.1" lengthAdjust="spacingAndGlyphs" style="fill:#fff;stroke:#fff">109.90</text>
<rect x="969" y="136.50" width="29.2" height="8.50" fill="#ff0a0a"/>
<text x="972.7" y="143.95" textLength="23.1" lengthAdjust="spacingAndGlyphs" style="fill:#fff;stroke:#fff">109.25</text>
<rect x="969" y="201.90" width="29.2" height="8.30" fill="#ff0a0a"/>
<text x="972.7" y="209.25" textLength="23.1" lengthAdjust="spacingAndGlyphs" style="fill:#fff;stroke:#fff">108.75</text>
<rect x="969" y="261.00" width="29.2" height="8.70" fill="#ff0a0a"/>
<text x="972.7" y="268.55" textLength="23.1" lengthAdjust="spacingAndGlyphs" style="fill:#fff;stroke:#fff">108.30</text>
<rect x="969" y="328.10" width="29.2" height="8.20" fill="#000"/>
<text x="972.7" y="335.40" textLength="23.1" lengthAdjust="spacingAndGlyphs" style="fill:#fff;stroke:#fff">107.79</text>
<svg x="969" y="379" width="29.6" height="5.2" viewBox="969 379 29.6 5.2"><rect x="969" y="379" width="29.6" height="9" fill="#ff0a0a"/><text x="972.7" y="387.4" textLength="23.1" lengthAdjust="spacingAndGlyphs" style="fill:#fff;stroke:#fff">107.49</text></svg>
<g stroke="#444" stroke-width="1">
<path d="M2.70 514.4V517.4"/>
<path d="M54.76 514.4V517.4"/>
<path d="M106.82 514.4V517.4"/>
<path d="M158.88 514.4V517.4"/>
<path d="M210.94 514.4V517.4"/>
<path d="M263.00 514.4V517.4"/>
<path d="M315.06 514.4V517.4"/>
<path d="M367.12 514.4V517.4"/>
<path d="M419.18 514.4V517.4"/>
<path d="M471.24 514.4V517.4"/>
<path d="M523.30 514.4V517.4"/>
<path d="M575.36 514.4V517.4"/>
<path d="M627.42 514.4V517.4"/>
<path d="M679.48 514.4V517.4"/>
<path d="M731.54 514.4V517.4"/>
<path d="M783.60 514.4V517.4"/>
<path d="M835.66 514.4V517.4"/>
</g>
<g>
<text x="1.80" y="525.1" textLength="42.2" lengthAdjust="spacingAndGlyphs">25 Sep 2014</text>
<text x="53.86" y="525.1" textLength="43.3" lengthAdjust="spacingAndGlyphs">26 Sep 02:00</text>
<text x="105.92" y="525.1" textLength="43.3" lengthAdjust="spacingAndGlyphs">26 Sep 18:00</text>
<text x="157.98" y="525.1" textLength="43.3" lengthAdjust="spacingAndGlyphs">29 Sep 11:00</text>
<text x="210.04" y="525.1" textLength="43.3" lengthAdjust="spacingAndGlyphs">30 Sep 03:00</text>
<text x="262.10" y="525.1" textLength="43.3" lengthAdjust="spacingAndGlyphs">30 Sep 19:00</text>
<text x="314.16" y="525.1" textLength="39.5" lengthAdjust="spacingAndGlyphs">1 Oct 11:00</text>
<text x="366.22" y="525.1" textLength="39.5" lengthAdjust="spacingAndGlyphs">2 Oct 03:00</text>
<text x="418.28" y="525.1" textLength="39.5" lengthAdjust="spacingAndGlyphs">2 Oct 19:00</text>
<text x="470.34" y="525.1" textLength="39.5" lengthAdjust="spacingAndGlyphs">3 Oct 11:00</text>
<text x="522.40" y="525.1" textLength="39.5" lengthAdjust="spacingAndGlyphs">6 Oct 04:00</text>
<text x="574.46" y="525.1" textLength="39.5" lengthAdjust="spacingAndGlyphs">6 Oct 20:00</text>
<text x="626.52" y="525.1" textLength="39.5" lengthAdjust="spacingAndGlyphs">7 Oct 12:00</text>
<text x="678.58" y="525.1" textLength="39.5" lengthAdjust="spacingAndGlyphs">8 Oct 04:00</text>
<text x="730.64" y="525.1" textLength="39.5" lengthAdjust="spacingAndGlyphs">8 Oct 20:00</text>
<text x="782.70" y="525.1" textLength="39.5" lengthAdjust="spacingAndGlyphs">9 Oct 12:00</text>
<text x="834.76" y="525.1" textLength="43.3" lengthAdjust="spacingAndGlyphs">10 Oct 04:00</text>
</g>
<rect x="14.5" y="4.6" width="145.5" height="9" fill="#fefaf9"/>
<rect x="5.6" y="389.6" width="97.6" height="9.4" fill="#fefaf9"/>
<path d="M4.9 6.9H11.1L8 10.4Z" fill="#000"/>
<text x="15" y="11.6" textLength="41" lengthAdjust="spacingAndGlyphs">USDJPY,H1</text>
<text x="60.9" y="11.6" textLength="98.7" lengthAdjust="spacingAndGlyphs">107.75 107.80 107.64 107.79</text>
<text x="6" y="397.0" textLength="96.8" lengthAdjust="spacingAndGlyphs">MACD(5,34,5) -0.077 -0.038</text>
<text x="6" y="511.1" textLength="201.8" lengthAdjust="spacingAndGlyphs">MT4 TeleTrade, © 2001-2014, MetaQuotes Software Corp.</text>
</svg>
</body></html>
